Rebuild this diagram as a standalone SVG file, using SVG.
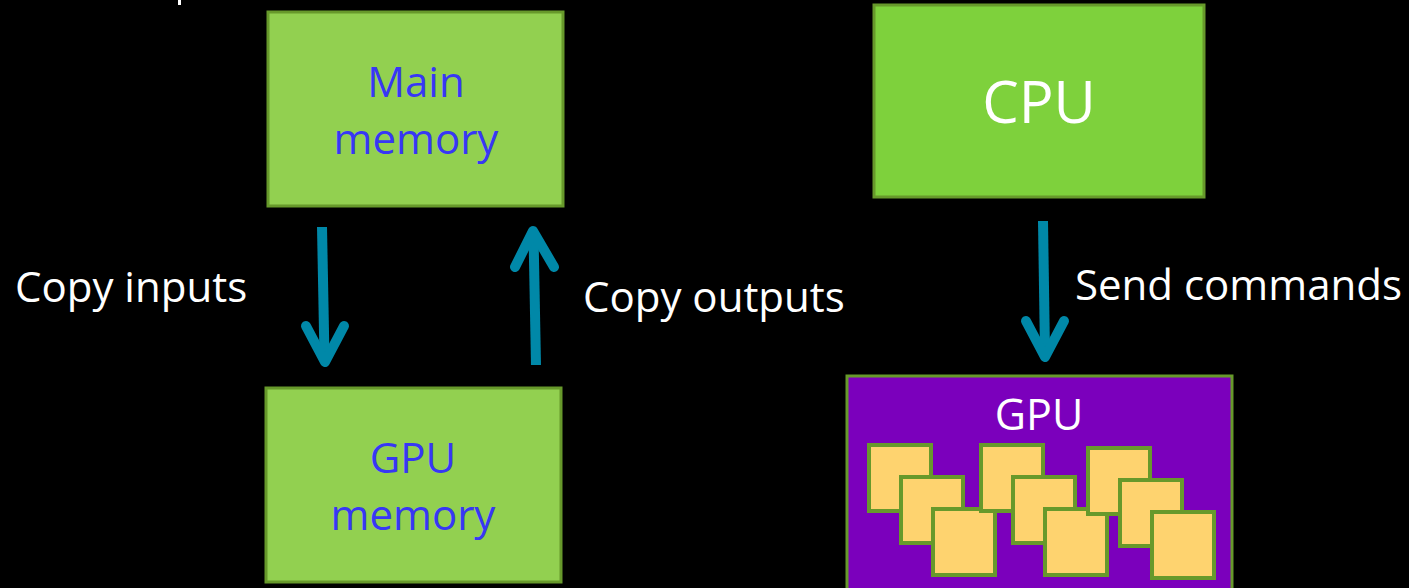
<svg xmlns="http://www.w3.org/2000/svg" width="1409" height="588" viewBox="0 0 1409 588">
  <style>
    .mem { fill: #92d050; stroke: #67992b; stroke-width: 3; }
    .cpu { fill: #7ed13c; stroke: #67992b; stroke-width: 3; }
    .gpu { fill: #7b00bc; stroke: #67992b; stroke-width: 3; }
    .core { fill: #fed36f; stroke: #67992b; stroke-width: 4; }
    .blue { font-family: "Open Sans", "Noto Sans", sans-serif; fill: #3737f5; text-anchor: middle; font-size: 42px; }
    .white { font-family: "Open Sans", "Noto Sans", sans-serif; fill: #ffffff; }
    .label { font-size: 42px; }
    .arrow { fill: none; stroke: #0088a8; stroke-width: 10; stroke-linecap: round; stroke-linejoin: round; }
    .shaft { fill: none; stroke: #0088a8; stroke-width: 10; stroke-linecap: butt; }
  </style>
  <rect width="1409" height="588" fill="#000000"/>
  <rect x="178" y="0" width="3" height="5" fill="#ffffff"/>

  <g id="main-memory">
    <rect class="mem" x="268" y="12" width="295" height="194"/>
    <text class="blue" x="416" y="97">Main</text>
    <text class="blue" x="416" y="154">memory</text>
  </g>

  <g id="gpu-memory">
    <rect class="mem" x="266" y="388" width="295" height="194"/>
    <text class="blue" x="413" y="473">GPU</text>
    <text class="blue" x="413" y="530">memory</text>
  </g>

  <g id="cpu">
    <rect class="cpu" x="874" y="5" width="330" height="192"/>
    <text class="white" x="1039" y="123" font-size="58" text-anchor="middle">CPU</text>
  </g>

  <g id="gpu">
    <rect class="gpu" x="847" y="376" width="385" height="220"/>
    <text class="white" x="1039" y="430" font-size="43" text-anchor="middle">GPU</text>
    <rect class="core" x="869" y="445" width="62" height="66"/>
    <rect class="core" x="901" y="477" width="62" height="66"/>
    <rect class="core" x="933" y="509" width="62" height="66"/>
    <rect class="core" x="981" y="445" width="62" height="66"/>
    <rect class="core" x="1013" y="477" width="62" height="66"/>
    <rect class="core" x="1045" y="509" width="62" height="66"/>
    <rect class="core" x="1088" y="448" width="62" height="66"/>
    <rect class="core" x="1120" y="480" width="62" height="66"/>
    <rect class="core" x="1152" y="512" width="62" height="66"/>
  </g>

  <g id="connectors">
    <g id="copy-inputs">
      <path class="shaft" d="M322 227 L324.5 358"/>
      <path class="arrow" d="M306 326 L325 362 L344 326"/>
    </g>
    <g id="copy-outputs">
      <path class="shaft" d="M536 365 L533.5 234"/>
      <path class="arrow" d="M515 267 L533 231 L554 267"/>
    </g>
    <g id="send-commands">
      <path class="shaft" d="M1043 221 L1045 353"/>
      <path class="arrow" d="M1026 321 L1045 357 L1064 321"/>
    </g>
  </g>

  <g id="labels">
    <text class="white label" x="15" y="302">Copy inputs</text>
    <text class="white label" x="583" y="312">Copy outputs</text>
    <text class="white label" x="1075" y="300">Send commands</text>
  </g>
</svg>
